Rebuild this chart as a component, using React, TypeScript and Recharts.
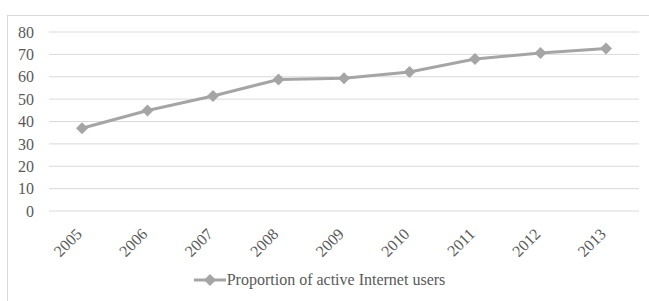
import React from 'react';
import { LineChart, Line, XAxis, YAxis, CartesianGrid, Legend } from 'recharts';

const years = ['2005', '2006', '2007', '2008', '2009', '2010', '2011', '2012', '2013'];
const activeUsers = [37.0, 44.9, 51.4, 58.8, 59.3, 62.1, 67.9, 70.6, 72.6];
const yTicks = [0, 10, 20, 30, 40, 50, 60, 70, 80];

const seriesName = 'Proportion of active Internet users';
const lineColor = '#a5a5a5';
const textColor = '#595959';
const fontFamily = 'Liberation Serif';

const chartData = years.map((year, i) => ({ year, value: activeUsers[i] }));

function Diamond(props: any) {
  const { cx, cy, index } = props;
  if (cx == null || cy == null) return <g key={index} />;
  const r = 6;
  return (
    <path
      key={index}
      d={`M${cx},${cy - r}L${cx + r},${cy}L${cx},${cy + r}L${cx - r},${cy}Z`}
      fill={lineColor}
    />
  );
}

// rotated year label, baseline end sits just under the tick
function YearTick(props: any) {
  const { x, y, payload } = props;
  return (
    <g transform={`translate(${x + 1},${y + 24})`}>
      <text x={0} y={0} transform="rotate(-45)" textAnchor="end" fill={textColor} fontSize={16} fontFamily={fontFamily}>
        {payload.value}
      </text>
    </g>
  );
}

function LegendContent() {
  return (
    <div style={{ display: 'flex', justifyContent: 'center', alignItems: 'center', fontFamily, fontSize: 16, color: textColor }}>
      <svg width={32} height={14} style={{ marginRight: 1 }}>
        <line x1={0} y1={7} x2={32} y2={7} stroke={lineColor} strokeWidth={3} />
        <path d="M16,1L22,7L16,13L10,7Z" fill={lineColor} />
      </svg>
      <span>{seriesName}</span>
    </div>
  );
}

export default function App() {
  return (
    <div style={{ position: 'absolute', left: 0, top: 0, width: 649, height: 301, overflow: 'hidden', background: '#fff', fontFamily }}>
      <div style={{ position: 'absolute', left: 7, top: 15, width: 700, height: 400, border: '1px solid #d9d9d9' }} />
      <LineChart
        width={649}
        height={301}
        data={chartData}
        margin={{ top: 32, right: 10, bottom: 8, left: 0 }}
        style={{ position: 'absolute', left: 0, top: 0, fontFamily }}
      >
        <CartesianGrid vertical={false} stroke="#d9d9d9" strokeWidth={1} />
        <XAxis
          dataKey="year"
          axisLine={false}
          tickLine={false}
          interval={0}
          padding={{ left: 33, right: 33 }}
          tickSize={0}
          tickMargin={0}
          height={60}
          tick={<YearTick />}
        />
        <YAxis
          domain={[0, 80]}
          ticks={yTicks}
          interval={0}
          axisLine={false}
          tickLine={false}
          tickMargin={9}
          width={49}
          tick={{ fill: textColor, fontSize: 16, fontFamily }}
        />
        <Legend verticalAlign="bottom" height={22} content={<LegendContent />} />
        <Line
          type="linear"
          dataKey="value"
          name={seriesName}
          stroke={lineColor}
          strokeWidth={3}
          dot={<Diamond />}
          activeDot={false}
          isAnimationActive={false}
        />
      </LineChart>
    </div>
  );
}
